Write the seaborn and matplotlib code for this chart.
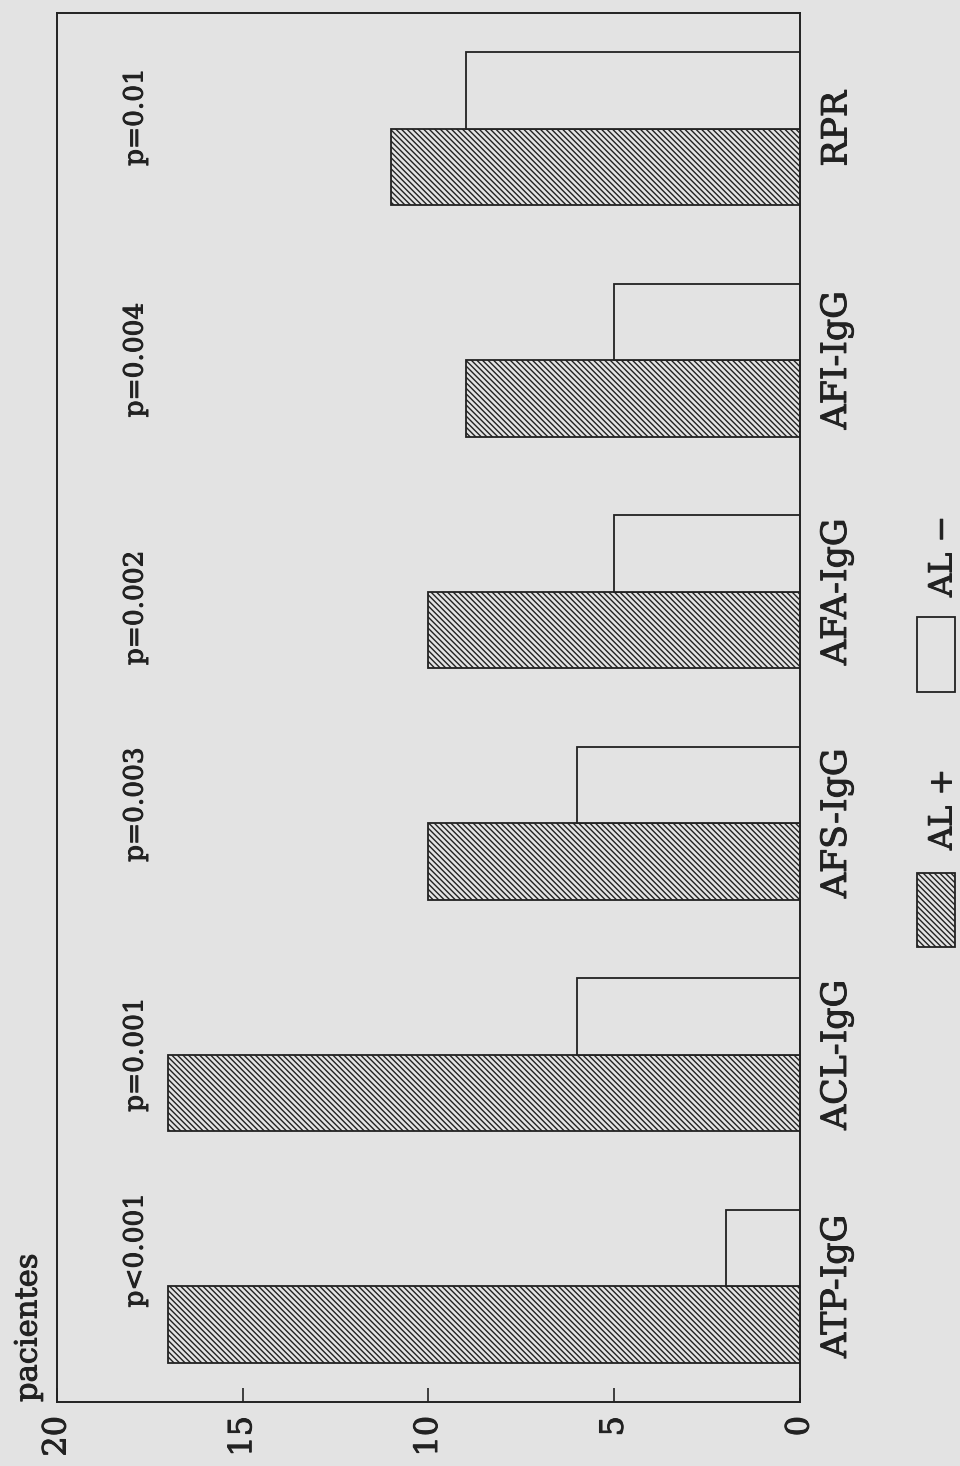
import matplotlib
matplotlib.use("Agg")
import matplotlib.pyplot as plt
import matplotlib.patheffects as pe
from matplotlib.patches import Rectangle
import seaborn as sns
import pandas as pd

# ---- data ----
categories = ["ATP-IgG", "ACL-IgG", "AFS-IgG", "AFA-IgG", "AFI-IgG", "RPR"]
al_pos = [17, 17, 10, 10, 9, 11]
al_neg = [2, 6, 6, 5, 5, 9]
p_values = ["p<0.001", "p=0.001", "p=0.003", "p=0.002", "p=0.004", "p=0.01"]
groups = ["AL +", "AL \u2212"]
value_ticks = [0, 5, 10, 15, 20]
y_label = "pacientes"

# ---- layout / style ----
p_shift = [0.155, 0.0, 0.08, -0.07, 0.0, 0.05]
BG = "#e3e3e3"
INK = "#222222"
SERIF = ["DejaVu Serif"]
HATCH = "\\\\\\\\\\\\"
THICK = [pe.withStroke(linewidth=0.7, foreground=INK)]

sns.set_theme(style="white")
plt.rcParams["font.family"] = SERIF
plt.rcParams["hatch.linewidth"] = 1.0
plt.rcParams["hatch.color"] = INK

df = pd.DataFrame({
    "cat": categories * 2,
    "n": al_pos + al_neg,
    "grupo": [groups[0]] * len(categories) + [groups[1]] * len(categories),
})

fig = plt.figure(figsize=(9.6, 14.66), dpi=100, facecolor=BG)
ax = fig.add_axes([57 / 960, 1 - 1402 / 1466, (800 - 57) / 960, (1402 - 13) / 1466])
ax.set_facecolor(BG)

sns.barplot(data=df, y="cat", x="n", hue="grupo", order=categories,
            hue_order=groups, orient="h", width=0.66, legend=False,
            errorbar=None, ax=ax, saturation=1)

for i, cont in enumerate(ax.containers):
    for bar in cont:
        bar.set_facecolor(BG)
        bar.set_edgecolor(INK)
        bar.set_linewidth(1.3)
        if i == 0:
            bar.set_hatch(HATCH)

ax.set_xlim(20, 0)
ax.set_ylim(-0.5, len(categories) - 0.5)

ax.set_xticks(value_ticks)
ax.set_xticklabels([str(v) for v in value_ticks], rotation=90, fontsize=23,
                   color=INK, ha="center", va="top")
ax.tick_params(axis="x", direction="in", length=10, width=1.2, color=INK,
               pad=10, bottom=True, top=False)

ax.yaxis.tick_right()
ax.set_yticks(range(len(categories)))
ax.set_yticklabels(categories, rotation=90, fontsize=25, color=INK, va="center")
ax.tick_params(axis="y", length=0, pad=14)
ax.set_xlabel("")
ax.set_ylabel("")
for lab in ax.get_xticklabels() + ax.get_yticklabels():
    lab.set_path_effects(THICK)

for s in ax.spines.values():
    s.set_visible(True)
    s.set_color(INK)
    s.set_linewidth(1.4)

# p-value annotations
tr = ax.get_yaxis_transform()
for i, (txt, sh) in enumerate(zip(p_values, p_shift)):
    ax.text(0.105, i + sh, txt, transform=tr, rotation=90, fontsize=19,
            color=INK, ha="center", va="center", path_effects=THICK)

# axis title "pacientes"
fig.text(28 / 960, 1 - 1402 / 1466, y_label, rotation=90, fontsize=22,
         color=INK, ha="center", va="bottom", path_effects=THICK)

# legend drawn manually (rotated like the chart)
fig.add_artist(Rectangle((917 / 960, 1 - 947 / 1466), 38 / 960, 74 / 1466,
                         transform=fig.transFigure, facecolor=BG,
                         edgecolor=INK, lw=1.3, hatch=HATCH))
fig.add_artist(Rectangle((917 / 960, 1 - 692 / 1466), 38 / 960, 75 / 1466,
                         transform=fig.transFigure, facecolor=BG,
                         edgecolor=INK, lw=1.3))
fig.text(943 / 960, 1 - 850 / 1466, groups[0], rotation=90, fontsize=23,
         color=INK, ha="center", va="bottom", path_effects=THICK)
fig.text(943 / 960, 1 - 597 / 1466, groups[1], rotation=90, fontsize=23,
         color=INK, ha="center", va="bottom", path_effects=THICK)

fig.savefig("out.png", dpi=100, facecolor=BG)
